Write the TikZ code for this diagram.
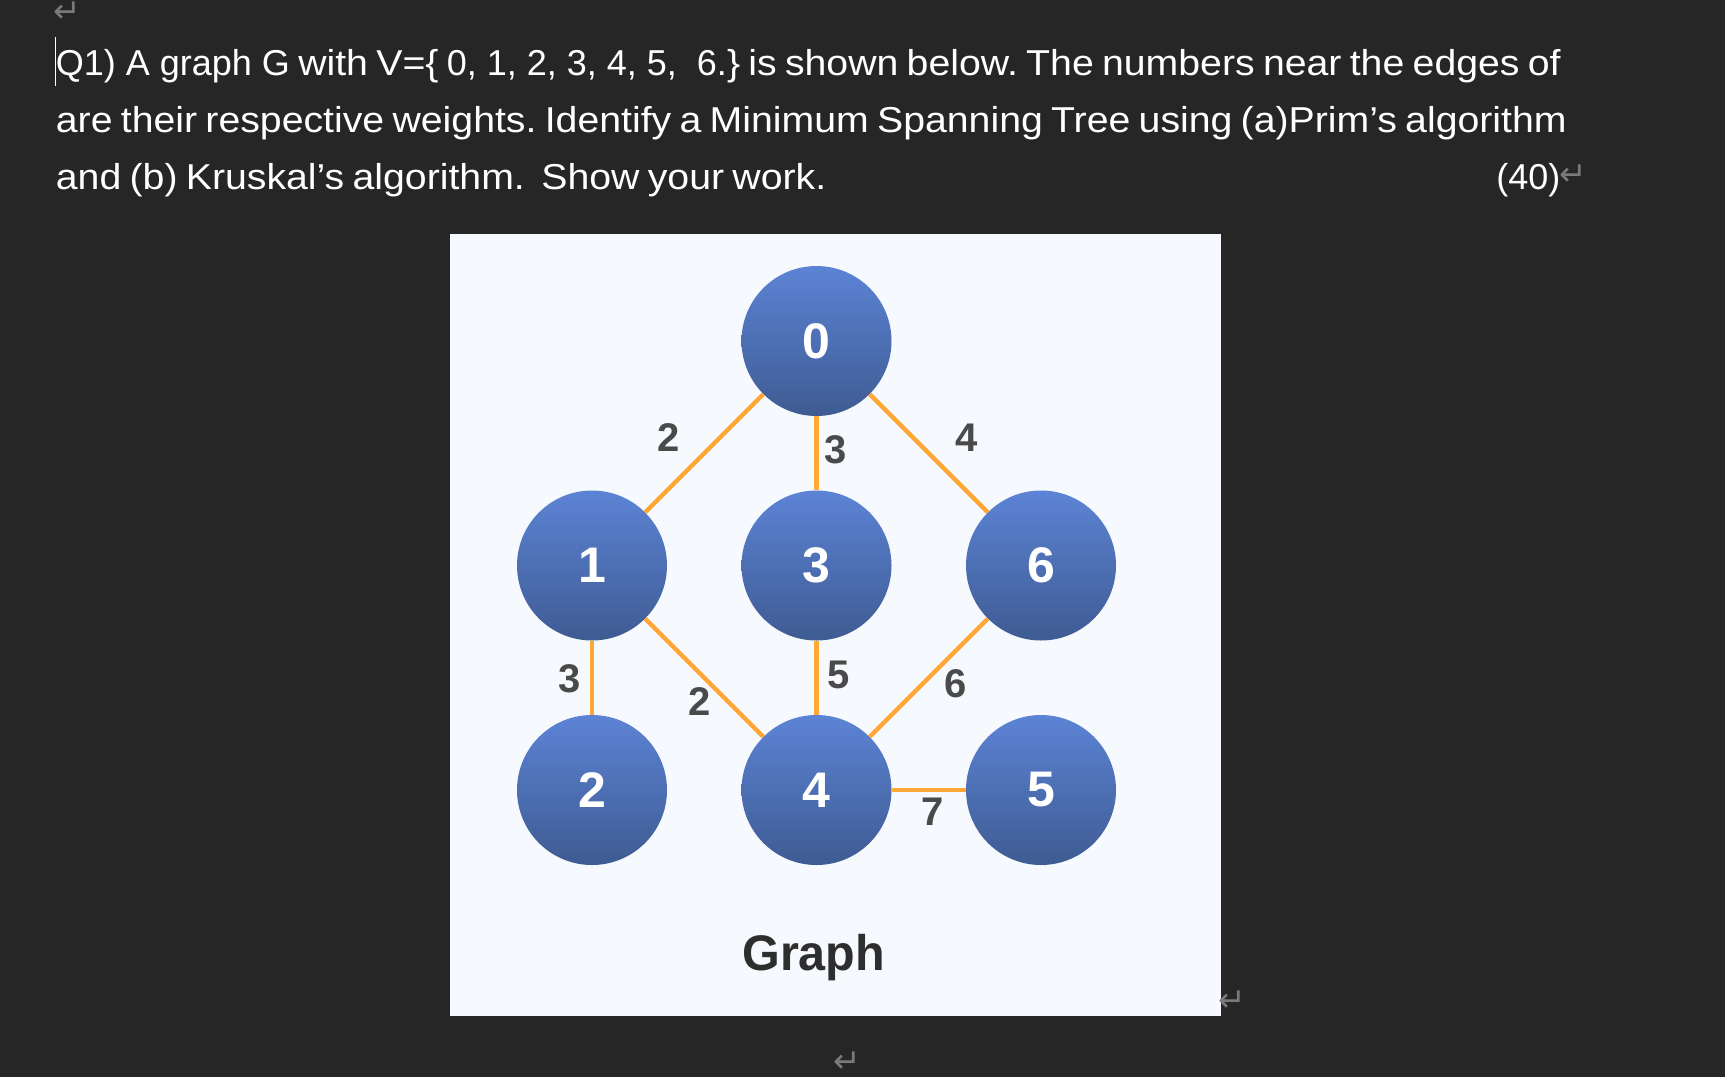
\documentclass[tikz,border=0pt]{standalone}
\usepackage{fontspec}
\setmainfont{Liberation Sans}
\newfontfamily\symbfont{DejaVu Sans}
\newfontfamily\questionfont[FakeStretch=1.09,WordSpace=0.76]{Liberation Sans}
\newfontfamily\titlefont[FakeStretch=0.97]{Liberation Sans}
\usetikzlibrary{positioning}
\definecolor{pagebg}{HTML}{262626}
\definecolor{panelbg}{HTML}{F6F9FD}
\definecolor{vertextop}{HTML}{5C83D5}
\definecolor{vertexbot}{HTML}{3E5B92}
\definecolor{edgeorange}{HTML}{FFA838}
\definecolor{weightgray}{HTML}{4A4A4A}
\definecolor{titlegray}{HTML}{2E2E2E}
\definecolor{markgray}{HTML}{7A7A7A}
\tikzset{
    %Define style for the graph
    vertex/.style={
           circle,
           inner sep=0pt,
           minimum size=150pt,
           top color=vertextop,
           bottom color=vertexbot,
           text=white,
           font=\fontsize{50}{50}\selectfont\bfseries
           },
    weight/.style={
           text=weightgray,
           inner sep=0pt,
           font=\fontsize{40}{40}\selectfont\bfseries
           },
    wire/.style={
           draw=edgeorange,
           line width=4.5pt
           },
    %Define style for the question text
    bodytext/.style={
           text=white,
           inner sep=0pt,
           anchor=base west,
           font=\fontsize{36}{36}\selectfont\questionfont\frenchspacing
           },
    retmark/.style={
           text=markgray,
           inner sep=0pt,
           font=\fontsize{33}{33}\selectfont\symbfont
           }
}
\begin{document}
\begin{tikzpicture}[x=1pt,y=-1pt,node distance=224.5pt,on grid]
\useasboundingbox[fill=pagebg] (0,0) rectangle (1725,1077);
\fill[panelbg] (450,234) rectangle (1221,1016);
% question text
\node[bodytext](line1) at (55.7,75){{\rmfamily Q1) A graph G} with V=\{ {\rmfamily 0, 1, 2, 3, 4, 5,\ \ 6.}\} is shown below. The numbers near the edges of};
\node[bodytext](line2) at (55.7,132){are their respective weights. Identify a Minimum Spanning Tree using (a)Prim’s algorithm};
\node[bodytext](line3) at (55.7,189){and (b) Kruskal’s algorithm.\ \ Show your work.};
\node[bodytext,anchor=base east,font=\fontsize{36}{36}\selectfont\rmfamily](points) at (1560.5,189){(40)};
\coordinate (caret top) at (55.7,37);
\coordinate (caret bot) at (55.7,86);
\draw[white,line width=.8pt] (caret top) -- (caret bot);
% paragraph marks
\node[retmark](mark1) at (67,12){↵};
\node[retmark](mark2) at (1573,175){↵};
\node[retmark](mark3) at (1232,1001){↵};
\node[retmark](mark4) at (847,1062){↵};
% graph
\node[vertex](n0) at (816.5,341){0};
\node[vertex, below=of n0](n3){3};
\node[vertex, left=of n3](n1){1};
\node[vertex, right=of n3](n6){6};
\node[vertex, below=of n3](n4){4};
\node[vertex, left=of n4](n2){2};
\node[vertex, right=of n4](n5){5};
\path[wire]
	(n0) edge node[weight,xshift=-35.5pt,yshift=16pt]{2} (n1)
	(n0) edge node[weight,xshift=19.5pt,yshift=3pt]{3} (n3)
	(n0) edge node[weight,xshift=37.5pt,yshift=16pt]{4} (n6)
	(n1) edge node[weight,xshift=-22pt,yshift=-1pt]{3} (n2)
	(n1) edge node[weight,xshift=-5pt,yshift=-24pt]{2} (n4)
	(n3) edge node[weight,xshift=22.5pt,yshift=2.5pt]{5} (n4)
	(n6) edge node[weight,xshift=26.5pt,yshift=-6pt]{6} (n4)
	(n4) edge node[weight,xshift=4pt,yshift=-22pt]{7} (n5);
\node[text=titlegray,inner sep=0pt,anchor=base,font=\fontsize{50}{50}\selectfont\titlefont\bfseries](title) at (813.7,970){Graph};
\end{tikzpicture}
\end{document}
